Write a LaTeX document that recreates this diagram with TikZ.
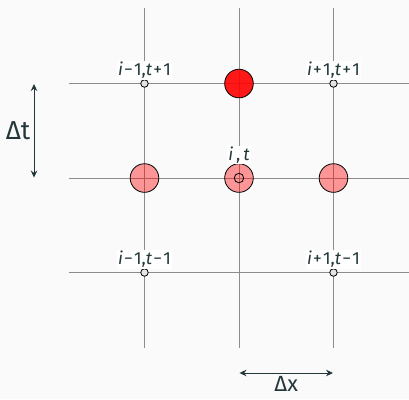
\documentclass[tikz,border=0pt]{standalone}
\usepackage{fontspec}
\setmainfont{Fira Sans}
\usepackage{xcolor}
\usetikzlibrary{arrows.meta,positioning,calc}
\definecolor{mDark}{HTML}{23373B}
\definecolor{mBg}{HTML}{FAFAFA}
\newcommand{\opsp}[1]{\kern1.2pt#1\kern1.2pt}

\begin{document}
\begin{tikzpicture}[x=94.5pt, y=94.5pt,
  every node/.style={text=mDark},
  gridline/.style={black!45, line width=.8pt},
  bigdot/.style={circle, draw=black, line width=.8pt, minimum size=28.6pt, inner sep=0pt},
  smalldot/.style={circle, draw=black, fill=black!10, line width=.8pt, minimum size=7.5pt, inner sep=0pt},
  ptlabel/.style={fill=white, inner sep=1pt, font=\fontsize{17.5}{17.5}\selectfont},
  dimarrow/.style={{Stealth[length=7pt,width=6.5pt]}-{Stealth[length=7pt,width=6.5pt]}, mDark, line width=.9pt},
  dimlabel/.style={font=\fontsize{26}{26}\selectfont, inner sep=0.5pt}]

  % Background and frame of the picture.
  \fill[mBg] (-2.529,-2.339) rectangle (1.799,1.884);
  \useasboundingbox (-2.529,-2.339) rectangle (1.799,1.884);

  % Grid of the stencil.
  \foreach \k in {-1,0,1}{
    \draw[gridline] (\k,-1.799) -- (\k,1.799);
    \draw[gridline] (-1.799,\k) -- (1.799,\k);
  }

  % Known values at level t.
  \node[bigdot, fill=red, fill opacity=.4, text opacity=1] (west) at (-1,0) {};
  \node[bigdot, fill=red, fill opacity=.4, text opacity=1] (east) at (1,0) {};
  \node[bigdot, fill=red, fill opacity=.4, text opacity=1] (centre) at (0,0) {};
  \node[circle, draw=black, line width=.8pt, minimum size=9.5pt, inner sep=0pt] (centredot) at (centre) {};

  % Unknown value at level t+1.
  \node[bigdot, fill=red, fill opacity=.9] (north) at (0,1) {};

  % Corner points.
  \foreach \nm/\x/\y in {nw/-1/1, ne/1/1, sw/-1/-1, se/1/-1}{
    \node[smalldot] (\nm) at (\x,\y) {};
  }

  % Labels of the points.
  \node[ptlabel, above=-0.5pt of nw] (nw-lab) {\textit{i}\opsp{−}1,\textit{t}\opsp{+}1};
  \node[ptlabel, above=-0.5pt of ne] (ne-lab) {\textit{i}\opsp{+}1,\textit{t}\opsp{+}1};
  \node[ptlabel, above=-0.5pt of sw] (sw-lab) {\textit{i}\opsp{−}1,\textit{t}\opsp{−}1};
  \node[ptlabel, above=-0.5pt of se] (se-lab) {\textit{i}\opsp{+}1,\textit{t}\opsp{−}1};
  \node[ptlabel, above=-1pt of centre] (centre-lab) {\textit{i}\,,\,\textit{t}};

  % Step sizes.
  \coordinate (dt-a) at (-2.169,0.995);
  \coordinate (dt-b) at (-2.169,0.005);
  \draw[dimarrow] (dt-a) -- (dt-b);
  \node[dimlabel, left=3pt of {$(dt-a)!.5!(dt-b)$}] (dt-lab) {Δt};

  \coordinate (dx-a) at (0.005,-2.063);
  \coordinate (dx-b) at (0.995,-2.063);
  \draw[dimarrow] (dx-a) -- (dx-b);
  \node[dimlabel, font=\fontsize{22}{22}\selectfont, anchor=base] (dx-lab)
    at ($(dx-a)!.5!(dx-b)+(0,-19pt)$) {Δx};
\end{tikzpicture}
\end{document}
